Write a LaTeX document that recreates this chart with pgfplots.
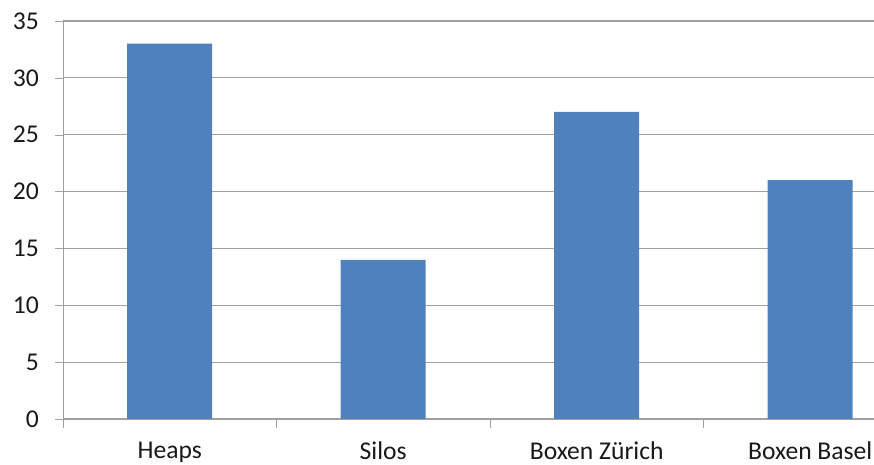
\documentclass[border=0pt]{standalone}
\usepackage{pgfplots}
\pgfplotsset{compat=1.18}
\usepackage{fontspec}
\setmainfont{Carlito}
\definecolor{barblue}{HTML}{4F81BD}
\definecolor{gridgray}{HTML}{A0A0A0}
\begin{document}
\begin{tikzpicture}
\begin{axis}[
  at={(0,0)}, anchor=south west,
  width=427pt, height=199pt, scale only axis,
  xmin=-0.5, xmax=3.5, ymin=0, ymax=35,
  ytick={0,5,...,35},
  xtick={0,1,2,3},
  xticklabels={Heaps,Silos,Boxen Zürich,Boxen Basel},
  minor xtick={-0.5,0.5,1.5,2.5,3.5},
  axis lines=left,
  axis line style={gridgray,-},
  ymajorgrids,
  major grid style={gridgray, line width=0.6pt},
  tick align=outside,
  major tick length=4pt,
  minor tick length=4.5pt,
  major x tick style={draw=none},
  minor x tick style={gridgray},
  major y tick style={gridgray},
  tick label style={font=\fontsize{12.8}{15}\selectfont, text=black!90},
  xticklabel style={yshift=-4pt},
  yticklabel style={xshift=-4.5pt},
  /pgf/number format/assume math mode=true,
]
\addplot[ybar, bar width=42.5pt, fill=barblue, draw=none]
  coordinates {(0,33) (1,14) (2,27) (3,21)};
\end{axis}
\pgfresetboundingbox
\useasboundingbox (-31.5pt,-23pt) rectangle (405.5pt,209.5pt);
\end{tikzpicture}
\end{document}
